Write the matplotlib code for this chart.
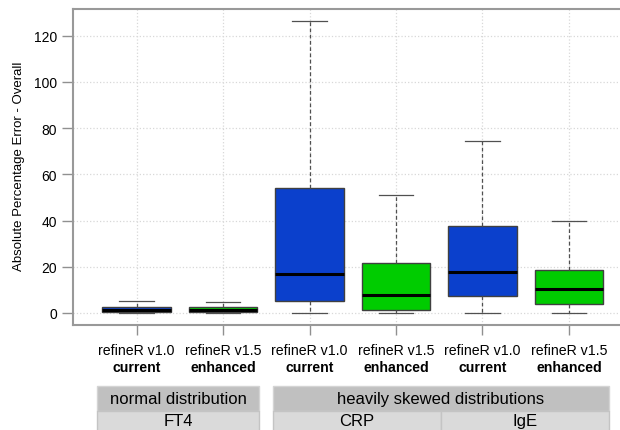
import matplotlib

matplotlib.use('Agg')
import matplotlib.pyplot as plt
import matplotlib.transforms as mtransforms
from matplotlib.patches import Rectangle

plt.rcParams['font.family'] = ['Liberation Sans', 'DejaVu Sans']

# boxplot stats (whisker low, Q1, median, Q3, whisker high)
versions = ['refineR v1.0', 'refineR v1.5', 'refineR v1.0', 'refineR v1.5', 'refineR v1.0', 'refineR v1.5']
kinds = ['current', 'enhanced', 'current', 'enhanced', 'current', 'enhanced']
whislo = [0.0, 0.0, 0.0, 0.0, 0.0, 0.0]
q1 = [0.3, 0.3, 5.1, 1.4, 7.5, 4.0]
med = [1.3, 1.3, 16.7, 7.9, 17.6, 10.5]
q3 = [2.5, 2.5, 54.2, 21.6, 37.7, 18.5]
whishi = [5.1, 4.6, 126.5, 51.1, 74.3, 39.7]
colors = ['#0b40cc', '#00cc00', '#0b40cc', '#00cc00', '#0b40cc', '#00cc00']
groups = ['normal distribution', 'heavily skewed distributions']
analytes = ['FT4', 'CRP', 'IgE']

W, H = 620, 431
fig = plt.figure(figsize=(W / 100, H / 100), dpi=100)
ax = fig.add_axes([72.5 / W, (H - 326) / H, (633 - 72.5) / W, 316 / H])

stats = []
for i in range(6):
    stats.append(dict(whislo=whislo[i], q1=q1[i], med=med[i], q3=q3[i],
                      whishi=whishi[i], fliers=[]))
pos = list(range(1, 7))
bp = ax.bxp(stats, positions=pos, widths=0.79, patch_artist=True,
            boxprops=dict(edgecolor='#404040', linewidth=1.0),
            medianprops=dict(color='black', linewidth=2.2),
            whiskerprops=dict(color='#505050', linestyle=(0, (3, 2)), linewidth=0.9),
            capprops=dict(color='#505050', linewidth=0.9),
            capwidths=0.4)
for b, c in zip(bp['boxes'], colors):
    b.set_facecolor(c)

ax.set_xlim(0.26, 6.74)
ax.set_ylim(-5.2, 131.6)
ax.set_yticks([0, 20, 40, 60, 80, 100, 120])
ax.set_xticks(pos)
ax.set_xticklabels([''] * 6)
ax.tick_params(axis='y', labelsize=10, color='#909090', length=8, width=1, pad=3)
ax.tick_params(axis='x', color='#909090', length=7, width=1)
ax.grid(True, color='#d8d8d8', linestyle=':', linewidth=0.9)
ax.set_axisbelow(True)
for s in ax.spines.values():
    s.set_color('#999999')
    s.set_linewidth(1.5)

fig.text(19 / W, 1 - 166.7 / H, 'Absolute Percentage Error - Overall',
         rotation=90, ha='center', va='center', fontsize=9.5)

tr = mtransforms.blended_transform_factory(ax.transData, fig.transFigure)
for i in range(6):
    ax.text(pos[i], 1 - 351.5 / H, versions[i], transform=tr, ha='center',
            va='center', fontsize=10.2)
    ax.text(pos[i], 1 - 368.5 / H, kinds[i], transform=tr, ha='center',
            va='center', fontsize=10.2, fontweight='bold')

# header strips
y_top = 1 - 387.3 / H
y_mid = 1 - 411.7 / H
y_bot = 1 - 440 / H
spans = [(0.546, 2.42), (2.58, 6.46)]
for (a, b), g in zip(spans, groups):
    ax.add_patch(Rectangle((a, y_mid), b - a, y_top - y_mid, transform=tr,
                           facecolor='#c0c0c0', edgecolor='#d4d4d4', lw=1, clip_on=False))
    ax.text((a + b) / 2, (y_top + y_mid) / 2, g, transform=tr, ha='center',
            va='center', fontsize=12)
cells = [(0.546, 2.42), (2.58, 4.52), (4.52, 6.46)]
for (a, b), t in zip(cells, analytes):
    ax.add_patch(Rectangle((a, y_bot), b - a, y_mid - y_bot, transform=tr,
                           facecolor='#dadada', edgecolor='#c4c4c4', lw=1, clip_on=False))
    ax.text((a + b) / 2, 1 - 421.7 / H, t, transform=tr, ha='center',
            va='center', fontsize=12)

fig.savefig('out.png', dpi=100)
